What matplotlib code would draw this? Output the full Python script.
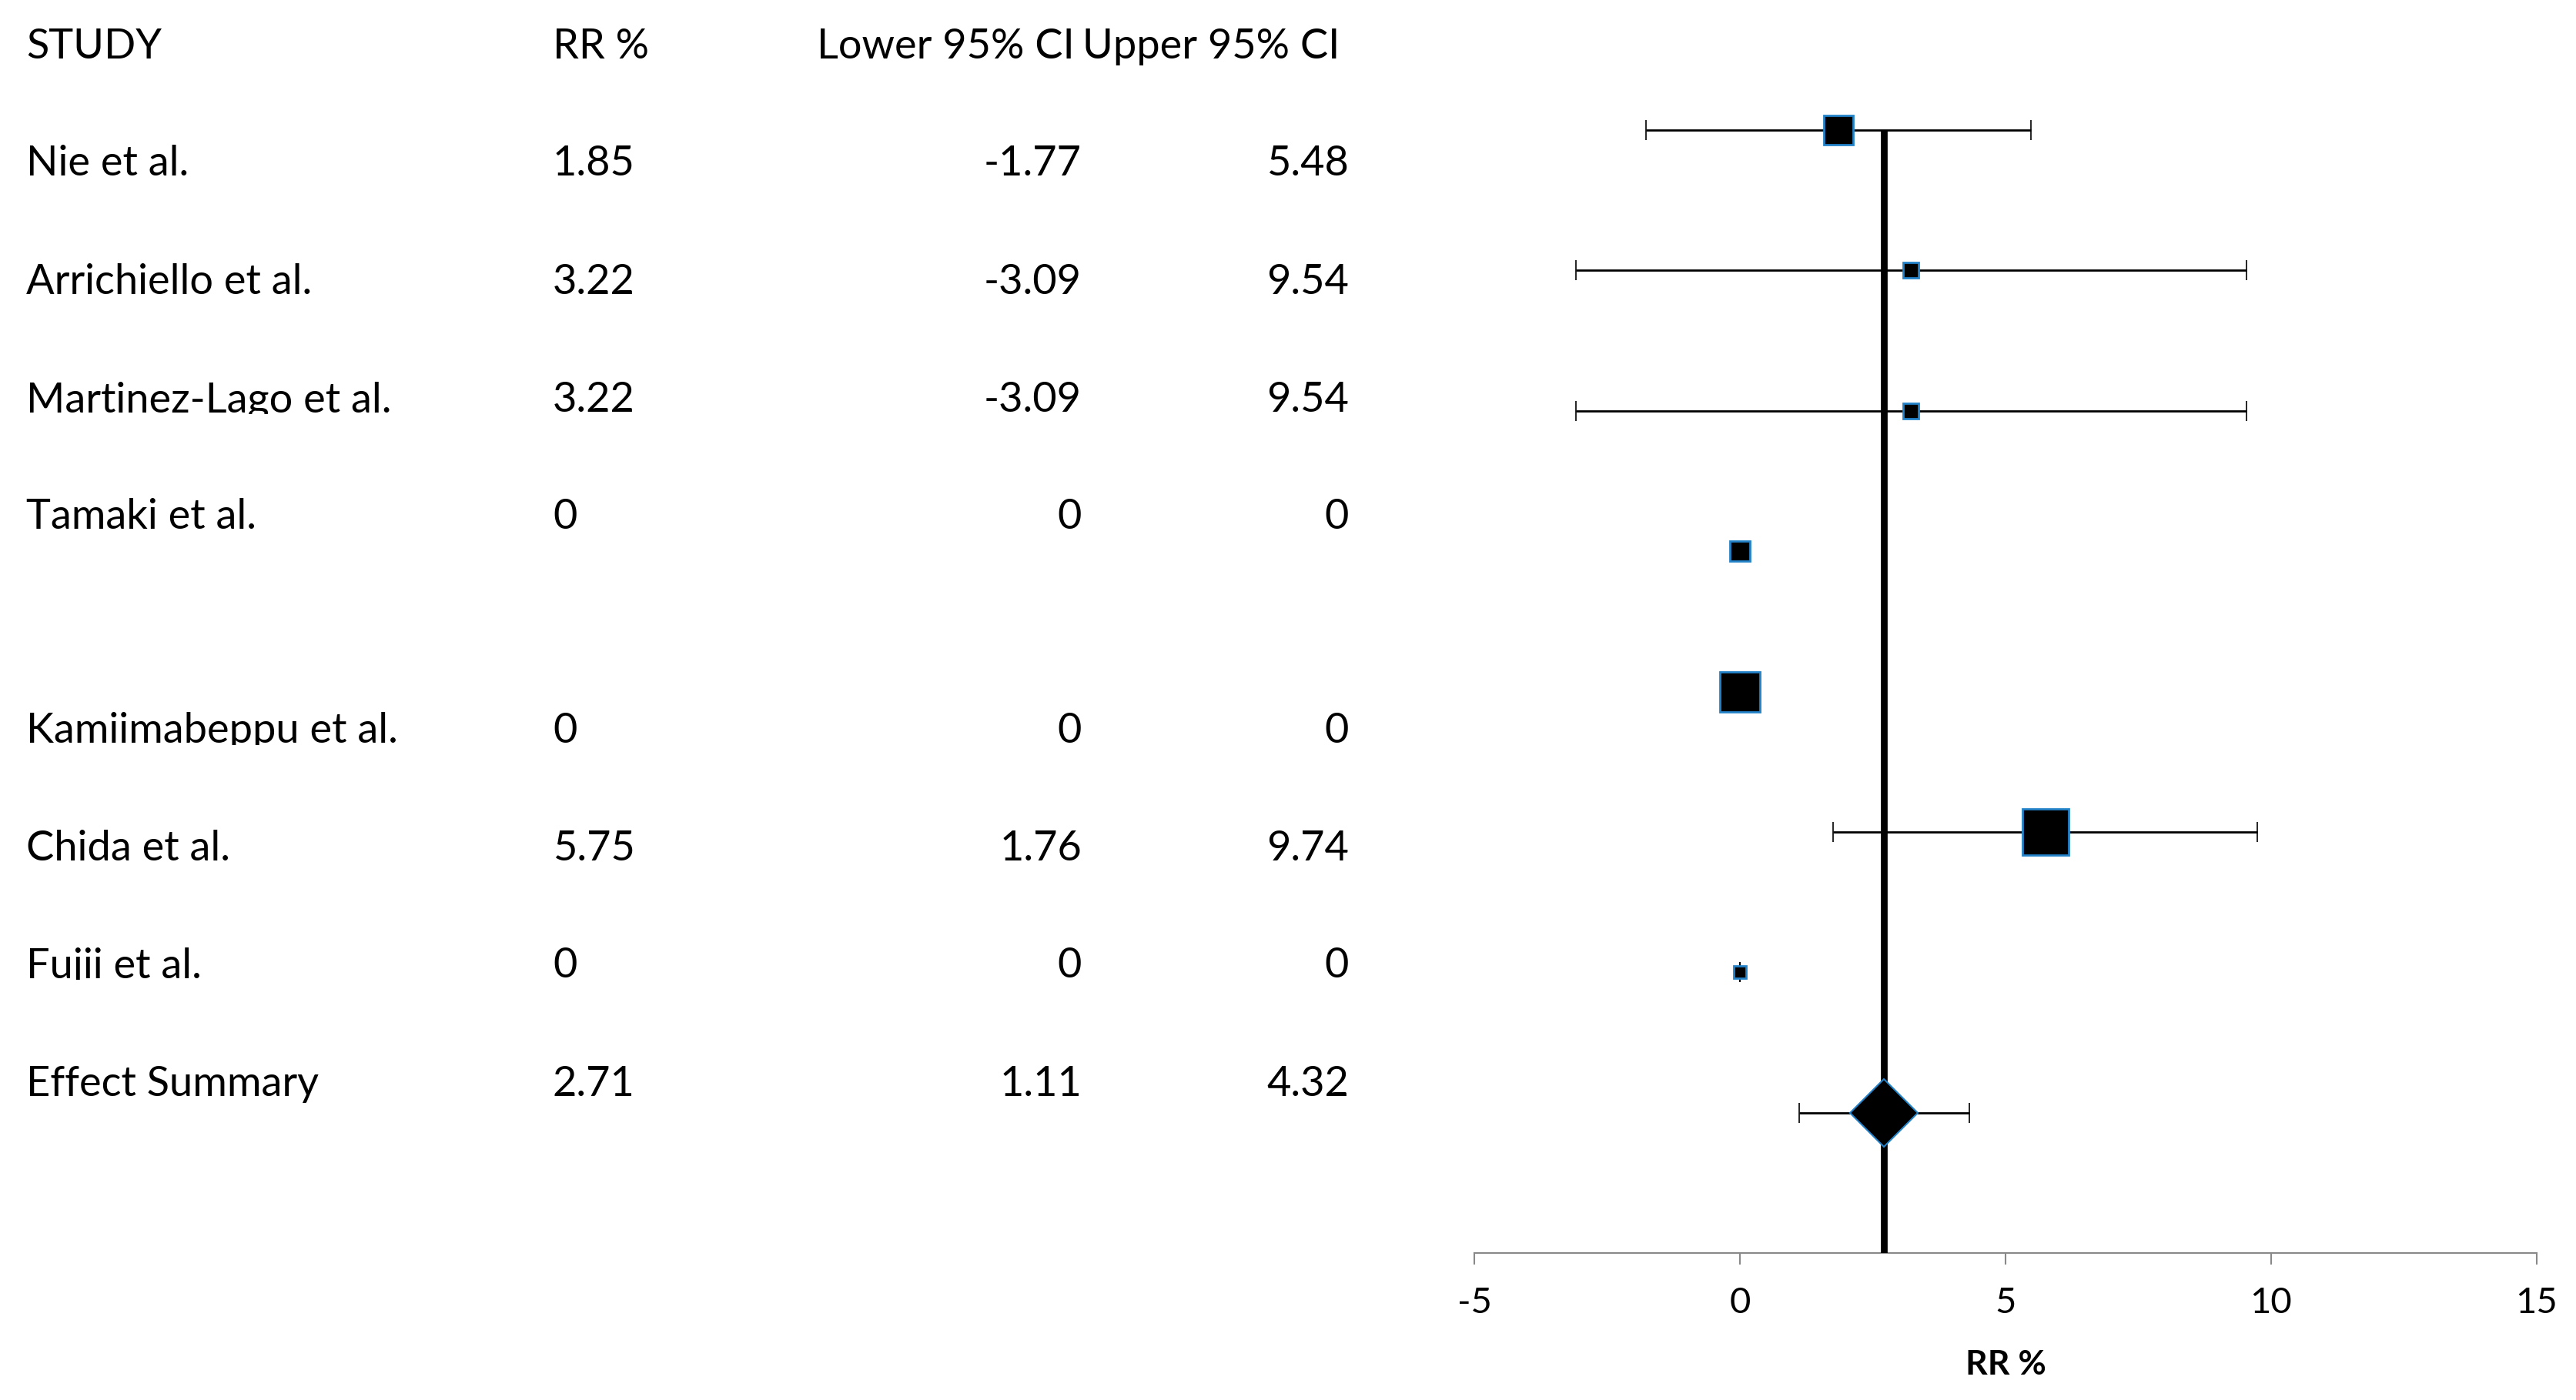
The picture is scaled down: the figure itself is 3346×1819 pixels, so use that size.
import numpy as np
import matplotlib.pyplot as plt
from matplotlib.transforms import Bbox

# ----------------------------- Data -----------------------------
studies = ["Nie et al.", "Arrichiello et al.", "Martinez-Lago et al.", "Tamaki et al.",
           "Kamiimabeppu et al.", "Chida et al.", "Fujii et al."]
rr = [1.85, 3.22, 3.22, 0, 0, 5.75, 0]
ci_lower = [-1.77, -3.09, -3.09, 0, 0, 1.76, 0]
ci_upper = [5.48, 9.54, 9.54, 0, 0, 9.74, 0]

summary_label = "Effect Summary"
summary_rr = 2.71
summary_lower = 1.11
summary_upper = 4.32

headers = ["STUDY", "RR %", "Lower 95% CI", "Upper 95% CI"]
x_ticks = [-5, 0, 5, 10, 15]
x_label = "RR %"

# ----------------------------- Layout / style -----------------------------
W, H = 3346, 1819
BLUE = "#2382C8"
box_px = [41, 22, 22, 29, 55, 63, 19]         # square marker sizes (study weight)
header_base = 76                               # text baselines, px from top
row_base = [228, 382, 535, 687, 965, 1118, 1270]
summary_base = 1424
col_study, col_rr = 34, 718                    # left-aligned columns
col_low_hdr, col_up_hdr = 1061, 1406
col_low, col_up = 1405, 1752                   # right edges of value columns
FS = 39

plt.rcParams['font.family'] = ['Lato', 'DejaVu Sans']

fig = plt.figure(figsize=(W / 100, H / 100), dpi=100)


def fx(px):
    return px / W


def fy(py):
    return 1 - py / H


# ----------------------------- Table text -----------------------------
hy = fy(header_base)
fig.text(fx(col_study), hy, headers[0], fontsize=FS, va='baseline')
fig.text(fx(col_rr), hy, headers[1], fontsize=FS, va='baseline')
fig.text(fx(col_low_hdr), hy, headers[2], fontsize=FS, va='baseline')
fig.text(fx(col_up_hdr), hy, headers[3], fontsize=FS, va='baseline')

for i, name in enumerate(studies):
    y = fy(row_base[i])
    # cells clip the descenders like the spreadsheet does
    clip = Bbox([[0, H - row_base[i] - 3], [700, H - row_base[i] + 120]])
    fig.text(fx(col_study), y, name, fontsize=FS, va='baseline', clip_on=True, clip_box=clip)
    fig.text(fx(col_rr), y, f"{rr[i]:g}", fontsize=FS, va='baseline')
    fig.text(fx(col_low), y, f"{ci_lower[i]:g}", fontsize=FS, va='baseline', ha='right')
    fig.text(fx(col_up), y, f"{ci_upper[i]:g}", fontsize=FS, va='baseline', ha='right')

y = fy(summary_base)
fig.text(fx(col_study), y, summary_label, fontsize=FS, va='baseline')
fig.text(fx(col_rr), y, f"{summary_rr:g}", fontsize=FS, va='baseline')
fig.text(fx(col_low), y, f"{summary_lower:g}", fontsize=FS, va='baseline', ha='right')
fig.text(fx(col_up), y, f"{summary_upper:g}", fontsize=FS, va='baseline', ha='right')

# ----------------------------- Forest plot -----------------------------
ax = fig.add_axes([fx(1915), fy(1628), (3295 - 1915) / W, (1628 - 169) / H])
n = len(studies)
ys = np.arange(n + 1, 1, -1)   # top row first, summary at 1
ax.set_xlim(x_ticks[0], x_ticks[-1])
ax.set_ylim(0, n + 1)

rr_a = np.array(rr)
xerr = [rr_a - np.array(ci_lower), np.array(ci_upper) - rr_a]
ax.errorbar(rr, ys, xerr=xerr, fmt='none', ecolor='black', elinewidth=2.0,
            capsize=9.4, capthick=1.2, clip_on=False, zorder=2)
ax.errorbar([summary_rr], [1], xerr=[[summary_rr - summary_lower], [summary_upper - summary_rr]],
            fmt='none', ecolor='black', elinewidth=2.0, capsize=9.4, capthick=1.2,
            clip_on=False, zorder=2)

ax.axvline(summary_rr, ymin=0, ymax=1, color='black', lw=6.3, zorder=3)

for i in range(n):
    ax.plot(rr[i], ys[i], marker='s', ms=(box_px[i] - 2.7) * 0.72, mfc='black',
            mec=BLUE, mew=2.0, ls='none', zorder=4, clip_on=False)
ax.plot(summary_rr, 1, marker='D', ms=45, mfc='black', mec=BLUE, mew=1.5,
        ls='none', zorder=4, clip_on=False)

for s in ['left', 'right', 'top']:
    ax.spines[s].set_visible(False)
ax.spines['bottom'].set_color('#898989')
ax.spines['bottom'].set_linewidth(1.5)
ax.set_yticks([])
ax.set_xticks(x_ticks)
ax.set_xticklabels([f"{t:g}" for t in x_ticks])
ax.tick_params(axis='x', direction='out', length=10.8, width=1.5, color='#898989',
               labelsize=34, pad=21, labelcolor='black')
ax.set_xlabel(x_label, fontsize=32, fontweight='bold')
ax.xaxis.set_label_coords(0.5, -0.086)
ax.patch.set_visible(False)

fig.savefig("out.png", dpi=100, facecolor='white')
